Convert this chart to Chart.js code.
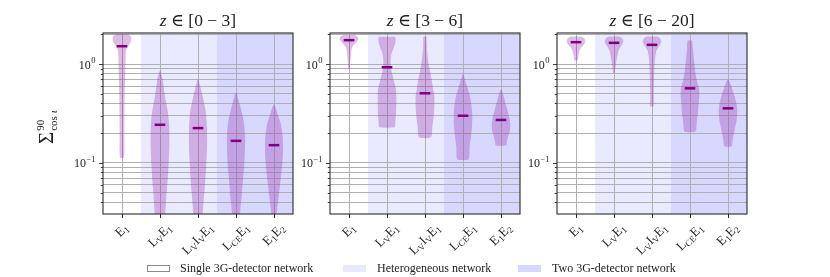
<!DOCTYPE html>
<html><head><meta charset="utf-8">
<script src="https://cdn.jsdelivr.net/npm/chart.js@4/dist/chart.umd.min.js"></script>
<style>
html,body{margin:0;padding:0;background:#fff;}
#wrap{position:relative;width:830px;height:277px;overflow:hidden;background:#fff;}
canvas{position:absolute;left:0;top:0;}
.leg{position:absolute;top:261px;font-family:'Liberation Serif',serif;font-size:12px;line-height:14px;color:#222;white-space:nowrap;}
.box{position:absolute;top:265px;width:23px;height:7px;box-sizing:border-box;}
</style></head><body>
<div id="wrap">
<canvas id="c0" width="830" height="277"></canvas>
<canvas id="c1" width="830" height="277"></canvas>
<canvas id="c2" width="830" height="277"></canvas>
</div>
<script>
// ---------------- data ----------------
const categories = ['E1', 'LVE1', 'LVIVE1', 'LCEE1', 'E1E2'];
// tick label text split into [text, isSubscript]
const categoryLabels = [
  [['E',0],['1',1]],
  [['L',0],['V',1],['E',0],['1',1]],
  [['L',0],['V',1],['I',0],['V',1],['E',0],['1',1]],
  [['L',0],['CE',1],['E',0],['1',1]],
  [['E',0],['1',1],['E',0],['2',1]]
];
const networkType = [0, 1, 1, 2, 2];   // 0 single, 1 heterogeneous, 2 two 3G
const legendLabels = ['Single 3G-detector network', 'Heterogeneous network', 'Two 3G-detector network'];
const panelRanges = ['0 \u2212 3', '3 \u2212 6', '6 \u2212 20'];
const yTickValues = [0.04,0.05,0.06,0.07,0.08,0.09,0.1,0.2,0.3,0.4,0.5,0.6,0.7,0.8,0.9,1,2];
const yMajorValues = [0.1, 1];
const yMajorLabels = [['10','\u22121'], ['10','0']];
const yMin = 0.0303, yMax = 2.07;

// violin outlines: values (top -> bottom) and half widths (category units)
const z03Values = [
  [2.015,1.923,1.778,1.645,1.521,1.407,1.204,0.882,0.472,0.216,0.113],
  [0.848,0.697,0.472,0.320,0.253,0.216,0.147,0.0992,0.0672,0.0455,0.0303,0.02],
  [0.697,0.574,0.472,0.320,0.216,0.147,0.0992,0.0672,0.0455,0.0303,0.02],
  [0.510,0.404,0.320,0.253,0.185,0.147,0.0992,0.0672,0.0455,0.0303,0.02],
  [0.388,0.320,0.253,0.185,0.136,0.0992,0.0672,0.0455,0.0303,0.02]
];
const z03Widths = [
  [0.158,0.228,0.246,0.219,0.158,0.114,0.096,0.088,0.070,0.061,0.053],
  [0.018,0.070,0.132,0.211,0.237,0.246,0.246,0.228,0.202,0.167,0.140,0.11],
  [0.018,0.070,0.123,0.211,0.237,0.237,0.219,0.193,0.158,0.123,0.096],
  [0.018,0.088,0.158,0.211,0.237,0.237,0.219,0.184,0.149,0.105,0.079],
  [0.018,0.088,0.175,0.228,0.237,0.219,0.175,0.123,0.070,0.044]
];
const z03Medians = [1.521, 0.243, 0.225, 0.167, 0.151];

const z36Values = [
  [1.968,1.893,1.778,1.671,1.582,1.463,1.302,1.071,0.895],
  [1.893,1.778,1.645,1.463,1.252,1.071,0.916,0.784,0.671,0.552,0.437,0.320,0.253,0.230],
  [1.893,1.645,1.407,1.114,0.882,0.697,0.552,0.472,0.374,0.296,0.234,0.182],
  [0.784,0.697,0.574,0.472,0.374,0.296,0.234,0.185,0.147,0.109],
  [0.543,0.472,0.374,0.296,0.243,0.208,0.178,0.158,0.150]
];
const z36Widths = [
  [0.158,0.228,0.246,0.193,0.132,0.079,0.053,0.035,0.018],
  [0.211,0.228,0.219,0.175,0.114,0.096,0.105,0.140,0.184,0.237,0.246,0.237,0.219,0.202],
  [0.044,0.044,0.053,0.079,0.123,0.175,0.219,0.246,0.246,0.228,0.193,0.158],
  [0.018,0.053,0.123,0.184,0.228,0.246,0.237,0.211,0.175,0.149],
  [0.018,0.070,0.140,0.211,0.246,0.228,0.175,0.149,0.140]
];
const z36Medians = [1.751, 0.931, 0.507, 0.300, 0.272];

const z620Values = [
  [1.908,1.834,1.710,1.582,1.463,1.353,1.204,1.096],
  [1.908,1.834,1.710,1.582,1.463,1.353,1.204,1.030,0.815],
  [1.908,1.834,1.710,1.582,1.463,1.353,1.204,1.030,0.697,0.472,0.374],
  [1.737,1.407,1.114,0.882,0.697,0.574,0.491,0.404,0.320,0.253,0.208],
  [0.697,0.597,0.472,0.388,0.332,0.274,0.216,0.171,0.147]
];
const z620Widths = [
  [0.140,0.211,0.246,0.211,0.132,0.088,0.061,0.044],
  [0.140,0.211,0.246,0.211,0.158,0.114,0.088,0.053,0.018],
  [0.140,0.211,0.246,0.211,0.158,0.114,0.088,0.070,0.053,0.044,0.044],
  [0.061,0.079,0.105,0.132,0.175,0.237,0.246,0.228,0.211,0.175,0.149],
  [0.018,0.088,0.175,0.228,0.246,0.228,0.175,0.123,0.096]
];
const z620Medians = [1.671, 1.645, 1.570, 0.569, 0.357];

// ---------------- styling / layout ----------------
const SERIF = "'Liberation Serif', 'DejaVu Serif', serif";
const violinFill = 'rgba(150,40,170,0.31)';
const medianColor = '#800080';
const spanColors = [null, 'rgba(0,0,255,0.085)', 'rgba(0,0,255,0.155)'];
const gridColor = '#b0b0b0';
const frameColor = '#2a2a2a';
const panelLeft = [103, 330, 557];
const panelRight = [293, 520, 747];
const plotTop = 33, plotBottom = 214;
const W = 830, H = 277;

// legend (HTML)
(function(){
  const wrap = document.getElementById('wrap');
  const boxX = [147, 343, 518], textX = [180, 377, 552];
  legendLabels.forEach((lab, k) => {
    const b = document.createElement('div');
    b.className = 'box';
    b.style.left = boxX[k] + 'px';
    if (k === 0) { b.style.border = '1px solid #8a8a8a'; b.style.background = '#fff'; }
    else b.style.background = spanColors[k];
    wrap.appendChild(b);
    const t = document.createElement('div');
    t.className = 'leg';
    t.style.left = textX[k] + 'px';
    t.textContent = lab;
    wrap.appendChild(t);
  });
})();

function buildDatasets(values, widths, medians) {
  const ds = [];
  values.forEach((v, i) => {
    const w = widths[i];
    const pts = [];
    for (let k = 0; k < v.length; k++) pts.push({x: i + w[k], y: v[k]});
    for (let k = v.length - 1; k >= 0; k--) pts.push({x: i - w[k], y: v[k]});
    pts.push({x: pts[0].x, y: pts[0].y});
    ds.push({label: categories[i], data: pts, showLine: true, fill: 'shape',
      backgroundColor: violinFill, borderColor: 'rgba(0,0,0,0)', borderWidth: 0,
      pointRadius: 0, tension: 0.2, order: 2});
  });
  medians.forEach((m, i) => {
    ds.push({label: categories[i] + ' median', data: [{x: i - 0.14, y: m}, {x: i + 0.14, y: m}],
      showLine: true, fill: false, borderColor: medianColor, borderWidth: 2.5,
      pointRadius: 0, order: 1});
  });
  return ds;
}

function drawSegments(ctx, segs, x, y, size, subSize, subDy, align) {
  let total = 0;
  const ws = segs.map(([t, s]) => { ctx.font = (s ? subSize : size) + 'px ' + SERIF; const w = ctx.measureText(t).width; total += w; return w; });
  let cx = align === 'center' ? x - total / 2 : (align === 'right' ? x - total : x);
  segs.forEach(([t, s], k) => {
    ctx.font = (s ? subSize : size) + 'px ' + SERIF;
    ctx.fillText(t, cx, y + (s ? subDy : 0));
    cx += ws[k];
  });
  return total;
}

function makePlugin(p) {
  return {
    id: 'decor' + p,
    beforeDraw(chart) {
      const ctx = chart.ctx, ca = chart.chartArea, xs = chart.scales.x;
      ctx.save();
      networkType.forEach((t, i) => {
        if (!spanColors[t]) return;
        const x0 = xs.getPixelForValue(i - 0.5), x1 = xs.getPixelForValue(i + 0.5);
        ctx.fillStyle = spanColors[t];
        ctx.fillRect(x0, ca.top, x1 - x0, ca.bottom - ca.top);
      });
      ctx.restore();
    },
    afterDraw(chart) {
      const ctx = chart.ctx, ca = chart.chartArea, xs = chart.scales.x, ys = chart.scales.y;
      ctx.save();
      // frame
      ctx.strokeStyle = frameColor; ctx.lineWidth = 1.1;
      ctx.strokeRect(ca.left, ca.top, ca.right - ca.left, ca.bottom - ca.top);
      // y tick marks
      ctx.lineWidth = 0.9;
      yTickValues.forEach(v => {
        const y = Math.round(ys.getPixelForValue(v)) + 0.5;
        const len = yMajorValues.includes(v) ? 4 : 2.2;
        ctx.beginPath(); ctx.moveTo(ca.left - len, y); ctx.lineTo(ca.left, y); ctx.stroke();
      });
      // y tick labels
      ctx.fillStyle = '#222'; ctx.textBaseline = 'alphabetic'; ctx.textAlign = 'left';
      yMajorValues.forEach((v, k) => {
        const y = ys.getPixelForValue(v);
        const [base, exp] = yMajorLabels[k];
        ctx.font = '12px ' + SERIF; const wb = ctx.measureText(base).width;
        ctx.font = '8.5px ' + SERIF; const we = ctx.measureText(exp).width;
        const x0 = ca.left - 8 - wb - we;
        ctx.font = '12px ' + SERIF; ctx.fillText(base, x0, y + 4.5);
        ctx.font = '8.5px ' + SERIF; ctx.fillText(exp, x0 + wb + 0.5, y - 1);
      });
      // x tick labels (rotated 45 deg, bbox centred on tick)
      categoryLabels.forEach((segs, i) => {
        const x = xs.getPixelForValue(i);
        let w = 0;
        segs.forEach(([t, s]) => { ctx.font = (s ? 9 : 13) + 'px ' + SERIF; w += ctx.measureText(t).width; });
        const h = 12;
        const half = (w + h) / (2 * Math.SQRT2);
        ctx.save();
        ctx.translate(x, ca.bottom + 8 + half);
        ctx.rotate(-Math.PI / 4);
        ctx.textBaseline = 'middle';
        drawSegments(ctx, segs, 0, 0, 13, 9, 3.5, 'center');
        ctx.restore();
      });
      // title
      ctx.textBaseline = 'alphabetic';
      const tcx = (ca.left + ca.right) / 2;
      ctx.font = 'italic 17.5px ' + SERIF; const wz = ctx.measureText('z').width;
      const rest = ' \u2208 [' + panelRanges[p] + ']';
      ctx.font = '17.5px ' + SERIF; const wr = ctx.measureText(rest).width;
      let tx = tcx - (wz + wr) / 2;
      ctx.font = 'italic 17.5px ' + SERIF; ctx.fillText('z', tx, 26);
      ctx.font = '17.5px ' + SERIF; ctx.fillText(rest, tx + wz, 26);
      // y-axis label on first panel
      if (p === 0) {
        ctx.save();
        ctx.translate(53, 144);
        ctx.rotate(-Math.PI / 2);
        ctx.font = '21px ' + SERIF; const ws = ctx.measureText('\u03A3').width;
        ctx.fillText('\u03A3', 0, 0);
        ctx.font = '11px ' + SERIF; ctx.fillText('90', ws + 1, -9);
        ctx.font = '11px ' + SERIF; const wc = ctx.measureText('cos ').width;
        ctx.fillText('cos ', ws + 1, 4);
        ctx.font = 'italic 11px ' + SERIF; ctx.fillText('\u03B9', ws + 1 + wc, 4);
        ctx.restore();
      }
      ctx.restore();
    }
  };
}

const panelValues = [z03Values, z36Values, z620Values];
const panelWidths = [z03Widths, z36Widths, z620Widths];
const panelMedians = [z03Medians, z36Medians, z620Medians];

for (let p = 0; p < 3; p++) {
  const ctx = document.getElementById('c' + p).getContext('2d');
  new Chart(ctx, {
    type: 'scatter',
    data: { datasets: buildDatasets(panelValues[p], panelWidths[p], panelMedians[p]) },
    options: {
      responsive: false, animation: false, events: [],
      layout: { padding: { left: panelLeft[p] - 10, right: W - panelRight[p], top: plotTop, bottom: H - plotBottom - 10 } },
      plugins: { legend: { display: false }, tooltip: { enabled: false }, title: { display: false } },
      scales: {
        x: {
          type: 'linear', min: -0.5, max: 4.5,
          afterBuildTicks: s => { s.ticks = categories.map((c, i) => ({value: i})); },
          afterFit: s => { s.height = 10; },
          ticks: { display: false },
          grid: { color: gridColor, lineWidth: 1, tickColor: frameColor, tickLength: 4, drawTicks: true },
          border: { display: false }
        },
        y: {
          type: 'logarithmic', min: yMin, max: yMax,
          afterBuildTicks: s => { s.ticks = yTickValues.map(v => ({value: v})); },
          afterFit: s => { s.width = 10; },
          ticks: { display: false },
          grid: { color: gridColor, lineWidth: 1, drawTicks: false },
          border: { display: false }
        }
      }
    },
    plugins: [makePlugin(p)]
  });
}
</script>
</body></html>
